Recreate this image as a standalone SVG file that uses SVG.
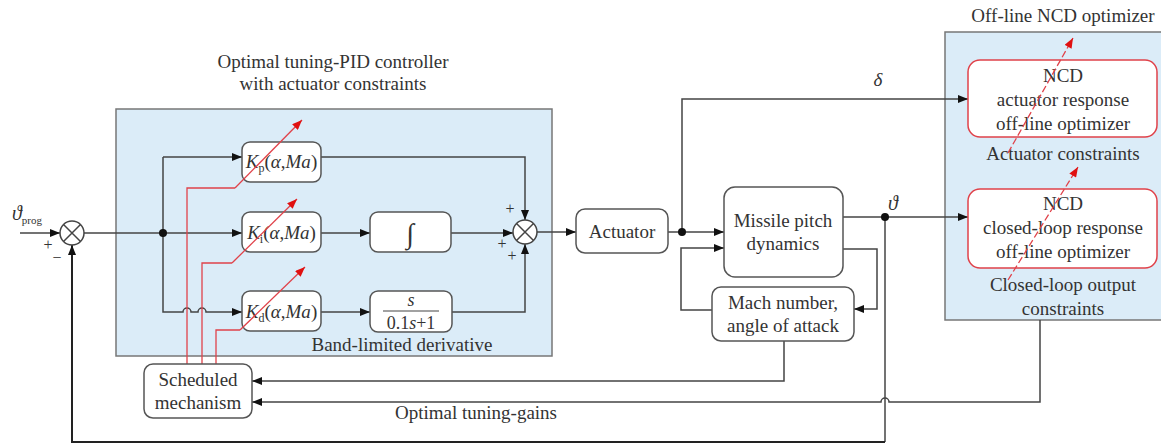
<svg xmlns="http://www.w3.org/2000/svg" width="1161" height="445" viewBox="0 0 1161 445">
<defs>
<style>
text{font-family:"Liberation Serif","DejaVu Serif","Times New Roman",serif;fill:#333}
.it{font-style:italic}
.box{fill:#fff;stroke:#555;stroke-width:1.5}
.rbox{fill:#fff;stroke:#e0424a;stroke-width:1.5}
.panel{fill:#dbecf8;stroke:#777;stroke-width:1.5}
.ln{fill:none;stroke:#444;stroke-width:1.5}
.red{fill:none;stroke:#e0424a;stroke-width:1.3}
.rdash{fill:none;stroke:#e0424a;stroke-width:1.3;stroke-dasharray:7 3}
.sum{fill:#fff;stroke:#444;stroke-width:1.5}
</style>
<marker id="a" viewBox="0 0 10 8" refX="10" refY="4" markerWidth="11" markerHeight="8" markerUnits="userSpaceOnUse" orient="auto"><path d="M0,0 L10,4 L0,8 Z" fill="#111"/></marker>
<marker id="r" viewBox="0 0 10 8" refX="10" refY="4" markerWidth="11" markerHeight="8" markerUnits="userSpaceOnUse" orient="auto"><path d="M0,0 L10,4 L0,8 Z" fill="#e01010"/></marker>
</defs>
<g font-family="Liberation Serif, DejaVu Serif, serif" font-size="19">

<g id="pid-panel">
<rect class="panel" x="116" y="109" width="436" height="247"/>
<text x="333" y="68" text-anchor="middle">Optimal tuning-PID controller</text>
<text x="333" y="90" text-anchor="middle">with actuator constraints</text>
<text x="402" y="351" text-anchor="middle">Band-limited derivative</text>
</g>

<g id="ncd-panel">
<rect class="panel" x="945" y="32" width="220" height="288"/>
<text x="1063" y="22" text-anchor="middle">Off-line NCD optimizer</text>
<text x="1063" y="160" text-anchor="middle">Actuator constraints</text>
<text x="1063" y="291" text-anchor="middle">Closed-loop output</text>
<text x="1063" y="315" text-anchor="middle">constraints</text>
</g>

<g id="connectors">
<path class="ln" d="M20,233 H60" marker-end="url(#a)"/>
<path class="ln" d="M84,233 H242" marker-end="url(#a)"/>
<path class="ln" d="M163,157 V312 H183 a4,4 0 0 1 8,0 H198 a4,4 0 0 1 8,0 H242" marker-end="url(#a)"/>
<path class="ln" d="M163,157 H242" marker-end="url(#a)"/>
<path class="ln" d="M321,233 H370" marker-end="url(#a)"/>
<path class="ln" d="M321,312 H370" marker-end="url(#a)"/>
<path class="ln" d="M321,157 H525 V220" marker-end="url(#a)"/>
<path class="ln" d="M451,233 H513" marker-end="url(#a)"/>
<path class="ln" d="M452,312 H525 V244" marker-end="url(#a)"/>
<path class="ln" d="M537,232 H576" marker-end="url(#a)"/>
<path class="ln" d="M668,232 H724" marker-end="url(#a)"/>
<path class="ln" d="M682,232 V99 H968" marker-end="url(#a)"/>
<path class="ln" d="M843,217 H968" marker-end="url(#a)"/>
<path class="ln" d="M843,249 H877 V309 H854" marker-end="url(#a)"/>
<path class="ln" d="M712,310 H681 V248 H724" marker-end="url(#a)"/>
<path class="ln" d="M784,341 V381 H252" marker-end="url(#a)"/>
<path class="ln" d="M1040,320 V402 H889 a4,4 0 0 0 -8,0 H252" marker-end="url(#a)"/>
<path class="ln" d="M885,217 V442"/>
<path d="M885,442 H72 V245" fill="none" stroke="#222" stroke-width="2" marker-end="url(#a)"/>
<circle cx="163" cy="233" r="4" fill="#111"/>
<circle cx="682" cy="232" r="4" fill="#111"/>
<circle cx="885" cy="217" r="4" fill="#111"/>
<path class="red" d="M187,364 V188 H235"/>
<path class="red" d="M202,364 V263 H232"/>
<path class="red" d="M216,364 V330 H240"/>
</g>

<g id="sum1">
<circle class="sum" cx="72" cy="233" r="12"/>
<path class="ln" d="M63.5,224.5 L80.5,241.5 M80.5,224.5 L63.5,241.5"/>
<text x="48" y="250" text-anchor="middle" font-size="16">+</text>
<text x="57" y="263" text-anchor="middle" font-size="16">−</text>
<text x="12" y="220" class="it" font-size="20">ϑ<tspan font-size="11" font-style="normal" dy="4">prog</tspan></text>
</g>

<g id="sum2">
<circle class="sum" cx="525" cy="232" r="12"/>
<path class="ln" d="M516.5,223.5 L533.5,240.5 M533.5,223.5 L516.5,240.5"/>
<text x="510" y="214" text-anchor="middle" font-size="16">+</text>
<text x="502" y="249" text-anchor="middle" font-size="16">+</text>
<text x="512" y="261" text-anchor="middle" font-size="16">+</text>
</g>

<g id="kp">
<rect class="box" x="242" y="142" width="79" height="40" rx="8"/>
<text x="281.5" y="168" text-anchor="middle"><tspan class="it">K</tspan><tspan font-size="12" dy="4">p</tspan><tspan dy="-4">(</tspan><tspan class="it">α</tspan>,<tspan class="it">Ma</tspan>)</text>
<path class="red" d="M235,188 L302,120" marker-end="url(#r)"/>
</g>

<g id="ki">
<rect class="box" x="242" y="212" width="79" height="40" rx="8"/>
<text x="281.5" y="239" text-anchor="middle"><tspan class="it">K</tspan><tspan font-size="12" dy="4">i</tspan><tspan dy="-4">(</tspan><tspan class="it">α</tspan>,<tspan class="it">Ma</tspan>)</text>
<path class="red" d="M232,263 L297,199" marker-end="url(#r)"/>
</g>

<g id="kd">
<rect class="box" x="242" y="291" width="79" height="40" rx="8"/>
<text x="281.5" y="318" text-anchor="middle"><tspan class="it">K</tspan><tspan font-size="12" dy="4">d</tspan><tspan dy="-4">(</tspan><tspan class="it">α</tspan>,<tspan class="it">Ma</tspan>)</text>
<path class="red" d="M240,330 L305,267" marker-end="url(#r)"/>
</g>

<g id="integrator">
<rect class="box" x="370" y="212" width="81" height="40" rx="8"/>
<text x="410" y="243" text-anchor="middle" font-size="28">∫</text>
</g>

<g id="derivative">
<rect class="box" x="370" y="291" width="82" height="41" rx="8"/>
<text x="411" y="306" text-anchor="middle" class="it" font-size="18">s</text>
<line x1="383" y1="311" x2="439" y2="311" stroke="#444" stroke-width="1.2"/>
<text x="411" y="329" text-anchor="middle" font-size="18">0.1<tspan class="it">s</tspan>+1</text>
</g>

<g id="scheduled">
<rect class="box" x="144" y="364" width="108" height="54" rx="9"/>
<text x="198" y="386" text-anchor="middle">Scheduled</text>
<text x="198" y="409" text-anchor="middle">mechanism</text>
</g>

<g id="actuator">
<rect class="box" x="576" y="209" width="92" height="44" rx="9"/>
<text x="622" y="238" text-anchor="middle">Actuator</text>
</g>

<g id="missile">
<rect class="box" x="724" y="187" width="119" height="90" rx="11"/>
<text x="783" y="227" text-anchor="middle">Missile pitch</text>
<text x="783" y="250" text-anchor="middle">dynamics</text>
</g>

<g id="mach">
<rect class="box" x="712" y="287" width="142" height="54" rx="9"/>
<text x="783" y="309" text-anchor="middle">Mach number,</text>
<text x="783" y="332" text-anchor="middle">angle of attack</text>
</g>

<g id="ncd1">
<rect class="rbox" x="968" y="60" width="189" height="77" rx="12"/>
<text x="1063" y="82" text-anchor="middle">NCD</text>
<text x="1063" y="106" text-anchor="middle">actuator response</text>
<text x="1063" y="130" text-anchor="middle">off-line optimizer</text>
<path class="rdash" d="M1008,153 L1073,38" marker-end="url(#r)"/>
</g>

<g id="ncd2">
<rect class="rbox" x="968" y="189" width="189" height="79" rx="12"/>
<text x="1063" y="210" text-anchor="middle">NCD</text>
<text x="1063" y="234" text-anchor="middle">closed-loop response</text>
<text x="1063" y="258" text-anchor="middle">off-line optimizer</text>
<path class="rdash" d="M1008,280 L1078,167" marker-end="url(#r)"/>
</g>

<g id="labels">
<text x="878" y="86" text-anchor="middle" class="it">δ</text>
<text x="893" y="210" text-anchor="middle" class="it" font-size="20">ϑ</text>
<text x="476" y="419" text-anchor="middle">Optimal tuning-gains</text>
</g>
</g>
</svg>
